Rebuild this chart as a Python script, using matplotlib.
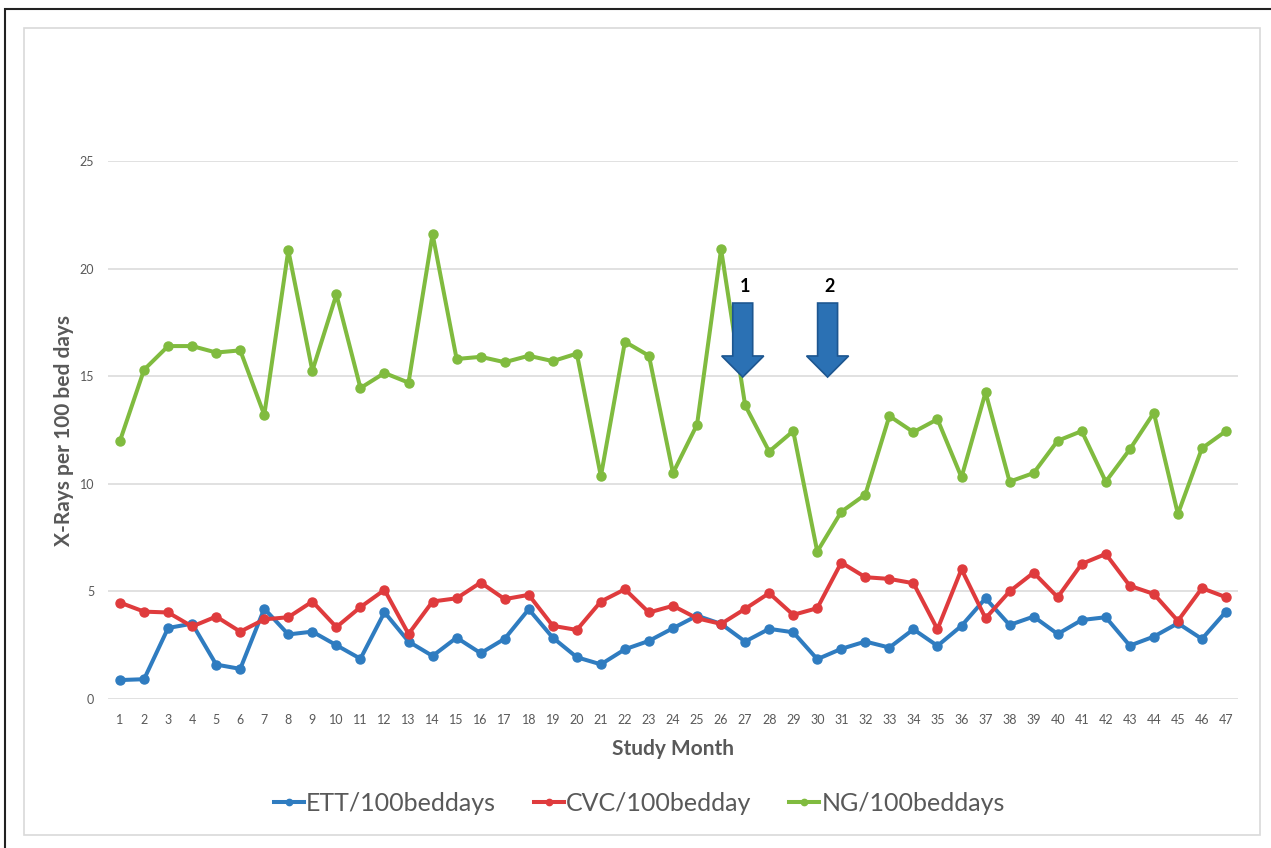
import matplotlib
matplotlib.use("Agg")
import matplotlib.pyplot as plt
from matplotlib.patches import FancyArrow, Rectangle

plt.rcParams["font.family"] = ["Lato", "DejaVu Sans"]

# data
months = list(range(1, 48))
ett = [0.88, 0.92, 3.3, 3.5, 1.6, 1.4, 4.2, 3.0, 3.13, 2.5,
       1.87, 4.03, 2.67, 2.0, 2.85, 2.13, 2.8, 4.17, 2.85, 1.94,
       1.61, 2.31, 2.7, 3.29, 3.87, 3.49, 2.67, 3.26, 3.1, 1.85,
       2.33, 2.67, 2.39, 3.24, 2.47, 3.4, 4.68, 3.44, 3.83, 3.02,
       3.67, 3.8, 2.48, 2.9, 3.52, 2.79, 4.06]
cvc = [4.48, 4.06, 4.02, 3.37, 3.83, 3.13, 3.7, 3.8, 4.53, 3.34,
       4.27, 5.07, 3.02, 4.53, 4.68, 5.41, 4.64, 4.84, 3.4, 3.21,
       4.53, 5.1, 4.02, 4.33, 3.75, 3.49, 4.19, 4.92, 3.91, 4.22,
       6.34, 5.66, 5.58, 5.38, 3.24, 6.03, 3.75, 5.0, 5.87, 4.73,
       6.28, 6.74, 5.26, 4.88, 3.63, 5.15, 4.73]
ng = [12.0, 15.3, 16.4, 16.4, 16.1, 16.2, 13.2, 20.85, 15.25, 18.8,
      14.45, 15.15, 14.7, 21.6, 15.8, 15.9, 15.65, 15.95, 15.7, 16.05,
      10.35, 16.6, 15.95, 10.5, 12.75, 20.9, 13.65, 11.5, 12.45, 6.85,
      8.7, 9.5, 13.15, 12.4, 13.0, 10.3, 14.25, 10.1, 10.5, 12.0,
      12.45, 10.1, 11.6, 13.3, 8.6, 11.65, 12.45]
series_labels = ["ETT/100beddays", "CVC/100bedday", "NG/100beddays"]
y_ticks = [0, 5, 10, 15, 20, 25]

# intervention arrows: (month, label)
arrow_months = [26.9, 30.43]
arrow_labels = ["1", "2"]

COLORS = ["#2f7cc0", "#df3b3d", "#80bb3f"]
TEXT_GREY = "#595959"

fig = plt.figure(figsize=(12.71, 8.48), dpi=100, facecolor="white")

# outer frames
fig.patches.append(Rectangle((5 / 1271, -0.1), 1.2, 1 - 9 / 848 + 0.1,
                             transform=fig.transFigure, fill=False,
                             edgecolor="#222222", linewidth=1.5))
fig.patches.append(Rectangle((24 / 1271, 1 - 835 / 848), (1260 - 24) / 1271,
                             (835 - 28) / 848, transform=fig.transFigure,
                             fill=False, edgecolor="#d9d9d9", linewidth=1.2))

ax = fig.add_axes([108 / 1271, 1 - 699 / 848, (1238 - 108) / 1271, (699 - 161) / 848])

for vals, color, label in zip([ett, cvc, ng], COLORS, series_labels):
    ax.plot(months, vals, color=color, linewidth=2.9, marker="o",
            markersize=6.5, label=label, solid_joinstyle="round", zorder=3)

ax.set_xlim(0.5, 47.5)
ax.set_ylim(0, 25)
ax.set_xticks(months)
ax.set_yticks(y_ticks)
ax.grid(axis="y", color="#d9d9d9", linewidth=1.1, zorder=0)
for side in ["top", "right", "left", "bottom"]:
    ax.spines[side].set_visible(False)
ax.tick_params(axis="both", length=0, labelsize=9, labelcolor=TEXT_GREY)
ax.tick_params(axis="x", pad=11)
ax.tick_params(axis="y", pad=10)

ax.set_xlabel("Study Month", fontsize=15, fontweight="bold", color=TEXT_GREY, labelpad=9)
ax.set_ylabel("X-Rays per 100 bed days", fontsize=15, fontweight="bold",
              color=TEXT_GREY, labelpad=4)

for m, lab in zip(arrow_months, arrow_labels):
    ax.add_patch(FancyArrow(m, 18.4, 0, -3.44, width=0.83, head_width=1.75,
                            head_length=0.98, length_includes_head=True,
                            facecolor="#2b71b4", edgecolor="#1d5690",
                            linewidth=1.2, zorder=4))
    ax.text(m + 0.1, 19.15, lab, ha="center", va="center", fontsize=13,
            fontweight="bold", color="black", zorder=5)

fig.legend(loc="center", bbox_to_anchor=(0.503, 0.053), ncol=3, frameon=False,
           fontsize=18, handlelength=1.2, handletextpad=0.1, columnspacing=1.5,
           markerscale=0.7, labelcolor=TEXT_GREY)

fig.savefig("out.png", dpi=100, facecolor="white")
